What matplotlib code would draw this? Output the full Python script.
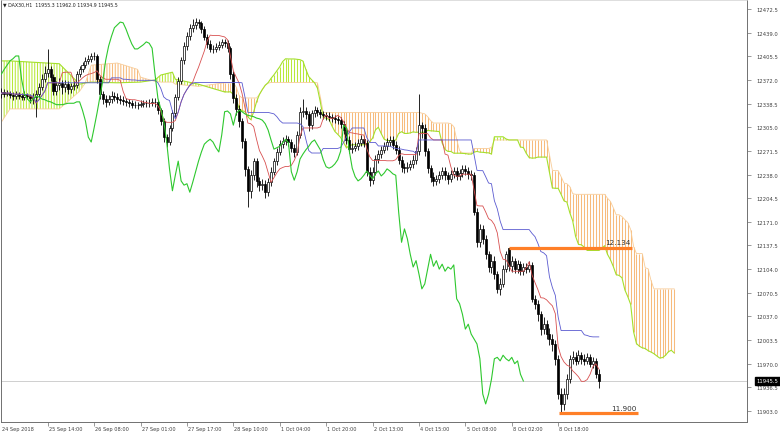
import matplotlib
matplotlib.use("Agg")
import matplotlib.pyplot as plt
import numpy as np
import pandas as pd

# DAX30 H1 candles (bar 0 = 24 Sep 2018)
opens = [12352, 12355, 12352, 12354, 12351, 12349, 12352, 12349, 12348, 12351,
         12349, 12346, 12348, 12352, 12362, 12373, 12382, 12387, 12376, 12356,
         12365, 12368, 12362, 12366, 12359, 12363, 12365, 12380, 12387, 12393,
         12399, 12402, 12406, 12406, 12373, 12352, 12345, 12341, 12345, 12349,
         12348, 12345, 12344, 12342, 12341, 12339, 12337, 12337, 12337, 12338,
         12339, 12339, 12339, 12341, 12341, 12329, 12314, 12291, 12284, 12304,
         12325, 12348, 12371, 12400, 12420, 12434, 12446, 12450, 12454, 12453,
         12444, 12433, 12423, 12416, 12416, 12419, 12422, 12426, 12424, 12417,
         12380, 12346, 12331, 12314, 12285, 12246, 12215, 12237, 12257, 12229,
         12223, 12225, 12213, 12227, 12242, 12257, 12270, 12281, 12285, 12288,
         12284, 12276, 12270, 12294, 12327, 12328, 12324, 12308, 12325, 12329,
         12327, 12324, 12322, 12321, 12320, 12318, 12317, 12315, 12310, 12301,
         12287, 12274, 12276, 12278, 12283, 12288, 12283, 12242, 12230, 12242,
         12260, 12267, 12273, 12278, 12284, 12287, 12280, 12273, 12259, 12249,
         12247, 12249, 12253, 12259, 12271, 12308, 12304, 12271, 12247, 12235,
         12229, 12232, 12237, 12243, 12237, 12232, 12239, 12243, 12236, 12240,
         12246, 12243, 12239, 12237, 12185, 12142, 12161, 12147, 12125, 12107,
         12116, 12097, 12076, 12083, 12104, 12134, 12108, 12116, 12104, 12111,
         12101, 12107, 12104, 12110, 12062, 12055, 12040, 12019, 12026, 12012,
         12005, 11998, 11977, 11927, 11913, 11927, 11948, 11977, 11979, 11974,
         11982, 11977, 11974, 11979, 11970, 11974, 11955.3]
highs = [12360, 12359, 12358, 12357, 12355, 12356, 12355, 12353, 12356, 12354,
         12352, 12353, 12358, 12368, 12380, 12392, 12416, 12392, 12380, 12370,
         12375, 12372, 12372, 12370, 12368, 12371, 12384, 12392, 12398, 12404,
         12408, 12410, 12412, 12409, 12378, 12357, 12350, 12350, 12356, 12355,
         12353, 12350, 12349, 12347, 12345, 12343, 12342, 12341, 12343, 12344,
         12344, 12345, 12346, 12347, 12344, 12332, 12318, 12296, 12308, 12330,
         12352, 12376, 12405, 12426, 12440, 12452, 12458, 12460, 12458, 12456,
         12448, 12437, 12428, 12422, 12424, 12427, 12430, 12430, 12428, 12420,
         12384, 12352, 12336, 12318, 12290, 12250, 12244, 12262, 12262, 12235,
         12232, 12230, 12233, 12248, 12262, 12276, 12287, 12291, 12294, 12293,
         12289, 12281, 12299, 12333, 12345, 12334, 12328, 12330, 12335, 12334,
         12331, 12328, 12327, 12326, 12324, 12323, 12321, 12320, 12314, 12305,
         12292, 12282, 12284, 12289, 12294, 12293, 12287, 12248, 12248, 12266,
         12273, 12279, 12284, 12290, 12293, 12292, 12285, 12278, 12264, 12255,
         12256, 12259, 12265, 12277, 12352, 12312, 12309, 12276, 12252, 12241,
         12238, 12243, 12249, 12248, 12242, 12245, 12249, 12248, 12246, 12252,
         12251, 12248, 12244, 12241, 12190, 12168, 12166, 12152, 12130, 12125,
         12122, 12102, 12092, 12110, 12130, 12134, 12122, 12120, 12117, 12116,
         12113, 12112, 12116, 12114, 12068, 12060, 12045, 12036, 12032, 12020,
         12012, 12003, 11982, 11935, 11935, 11955, 11983, 11988, 11986, 11990,
         11987, 11984, 11985, 11984, 11980, 11978, 11962.0]
lows = [12347, 12348, 12349, 12347, 12344, 12345, 12345, 12343, 12344, 12345,
        12340, 12338, 12320, 12348, 12358, 12369, 12376, 12370, 12350, 12350,
        12358, 12352, 12355, 12352, 12353, 12358, 12360, 12376, 12383, 12389,
        12394, 12397, 12400, 12368, 12345, 12338, 12334, 12336, 12340, 12342,
        12340, 12338, 12336, 12335, 12333, 12332, 12332, 12331, 12333, 12334,
        12334, 12334, 12335, 12334, 12324, 12308, 12284, 12277, 12280, 12300,
        12320, 12343, 12366, 12395, 12414, 12428, 12440, 12444, 12446, 12438,
        12428, 12418, 12411, 12410, 12412, 12415, 12417, 12419, 12412, 12374,
        12340, 12322, 12305, 12276, 12236, 12192, 12205, 12230, 12220, 12214,
        12216, 12205, 12208, 12222, 12237, 12252, 12265, 12276, 12280, 12278,
        12270, 12263, 12266, 12290, 12320, 12317, 12300, 12303, 12320, 12321,
        12318, 12316, 12315, 12314, 12312, 12311, 12309, 12304, 12295, 12281,
        12268, 12269, 12271, 12273, 12278, 12277, 12236, 12222, 12225, 12237,
        12255, 12262, 12268, 12273, 12279, 12274, 12267, 12253, 12242, 12240,
        12241, 12244, 12247, 12253, 12266, 12290, 12264, 12240, 12228, 12222,
        12223, 12226, 12231, 12230, 12225, 12227, 12233, 12230, 12230, 12235,
        12237, 12232, 12230, 12180, 12136, 12135, 12140, 12118, 12100, 12098,
        12090, 12070, 12068, 12078, 12100, 12102, 12100, 12098, 12099, 12095,
        12096, 12098, 12100, 12057, 12048, 12030, 12010, 12012, 12005, 11996,
        11988, 11968, 11920, 11900, 11905, 11920, 11942, 11970, 11968, 11970,
        11970, 11968, 11970, 11965, 11964, 11950, 11934.9]
closes = [12355, 12352, 12354, 12351, 12349, 12352, 12349, 12348, 12351, 12349,
          12346, 12348, 12352, 12362, 12373, 12382, 12387, 12376, 12356, 12365,
          12368, 12362, 12366, 12359, 12363, 12365, 12380, 12387, 12393, 12399,
          12402, 12406, 12406, 12373, 12352, 12345, 12341, 12345, 12349, 12348,
          12345, 12344, 12342, 12341, 12339, 12337, 12337, 12337, 12338, 12339,
          12339, 12339, 12341, 12341, 12329, 12314, 12291, 12284, 12304, 12325,
          12348, 12371, 12400, 12420, 12434, 12446, 12450, 12454, 12453, 12444,
          12433, 12423, 12416, 12416, 12419, 12422, 12426, 12424, 12417, 12380,
          12346, 12331, 12314, 12285, 12246, 12215, 12237, 12257, 12229, 12223,
          12225, 12213, 12227, 12242, 12257, 12270, 12281, 12285, 12288, 12284,
          12276, 12270, 12294, 12327, 12328, 12324, 12308, 12325, 12329, 12327,
          12324, 12322, 12321, 12320, 12318, 12317, 12315, 12310, 12301, 12287,
          12274, 12276, 12278, 12283, 12288, 12283, 12242, 12230, 12242, 12260,
          12267, 12273, 12278, 12284, 12287, 12280, 12273, 12259, 12249, 12247,
          12249, 12253, 12259, 12271, 12308, 12304, 12271, 12247, 12235, 12229,
          12232, 12237, 12243, 12237, 12232, 12239, 12243, 12236, 12240, 12246,
          12243, 12239, 12237, 12185, 12142, 12161, 12147, 12125, 12107, 12116,
          12097, 12076, 12083, 12104, 12125, 12108, 12116, 12104, 12111, 12101,
          12107, 12104, 12110, 12062, 12055, 12040, 12019, 12026, 12012, 12005,
          11998, 11977, 11927, 11913, 11927, 11948, 11977, 11979, 11974, 11982,
          11977, 11974, 11979, 11970, 11974, 11955, 11945.5]

# cloud on the first 77 bars comes from bars before the chart
early_bars = [0, 3, 20, 27, 29, 31, 40, 47, 48, 53, 55, 59, 60, 68, 77]
early_a = [12399, 12399, 12395, 12366, 12368, 12369, 12368, 12369, 12369, 12372,
           12379, 12383, 12373, 12366, 12355]
early_b = [12312, 12331, 12331, 12356, 12368, 12393, 12396, 12387, 12376, 12370,
           12369, 12369, 12366, 12363, 12368]

price_ticks = [12472.5, 12439.0, 12405.5, 12372.0, 12338.5, 12305.0, 12271.5,
               12238.0, 12204.5, 12171.0, 12137.5, 12104.0, 12070.5, 12037.0,
               12003.5, 11970.0, 11936.5, 11903.0]
time_bars = [0, 16, 32, 48, 64, 80, 96, 112, 128, 144, 160, 176, 192]
time_labels = ["24 Sep 2018", "25 Sep 14:00", "26 Sep 08:00", "27 Sep 01:00",
               "27 Sep 17:00", "28 Sep 10:00", "1 Oct 04:00", "1 Oct 20:00",
               "2 Oct 13:00", "4 Oct 15:00", "5 Oct 08:00", "8 Oct 02:00",
               "8 Oct 18:00"]

# horizontal levels: price, first bar, last bar, label
levels = [(12134, 175, 217.5, "12.134"), (11900, 192.3, 219.5, "11.900")]

GREEN_HATCH = '#b8e83a'
ORANGE_HATCH = '#f7bb7c'
plt.rcParams['hatch.linewidth'] = 0.75

df = pd.DataFrame({"o": opens, "h": highs, "l": lows, "c": closes})
bars = np.arange(len(df))

# Ichimoku (9, 26, 52)
tenkan = (df.h.rolling(9, min_periods=1).max() + df.l.rolling(9, min_periods=1).min()) / 2
kijun = (df.h.rolling(26, min_periods=1).max() + df.l.rolling(26, min_periods=1).min()) / 2
senkou_a = ((tenkan + kijun) / 2).values
senkou_b = ((df.h.rolling(52, min_periods=1).max() + df.l.rolling(52, min_periods=1).min()) / 2).values
disp = bars + 26
ok = disp >= 77

fig = plt.figure(figsize=(7.8, 4.35), dpi=100)
ax = fig.add_axes([1 / 780, 12 / 435, 746 / 780, 422 / 435])
ax.set_xlim(-0.1, 257.1)
ax.set_ylim(11887.4, 12485.3)

# cloud, early part (hatched between read-off spans)
eb = np.array(early_bars, dtype=float)
ea = np.array(early_a, dtype=float)
eB = np.array(early_b, dtype=float)
ax.fill_between(eb, ea, eB, where=ea >= eB, interpolate=True, facecolor='none',
                edgecolor=GREEN_HATCH, linewidth=0, hatch='||||||', zorder=1)
ax.fill_between(eb, ea, eB, where=ea < eB, interpolate=True, facecolor='none',
                edgecolor=ORANGE_HATCH, linewidth=0, hatch='||||||', zorder=1)

# cloud, computed part: one vertical line per bar like the terminal does
ca, cbv, cx = senkou_a[ok], senkou_b[ok], disp[ok]
ax.vlines(cx, ca, cbv, colors=np.where(ca >= cbv, GREEN_HATCH, ORANGE_HATCH),
          lw=0.75, zorder=1)

ax.plot(np.r_[eb, cx], np.r_[eB, cbv], color='#f8cc98', lw=0.6, zorder=2)
ax.plot(np.r_[eb, cx], np.r_[ea, ca], color='#a4e02c', lw=0.8, zorder=2)

# current price line
ax.axhline(closes[-1], color='#c8c8c8', lw=0.6, zorder=1)

# candles
up = (df.c >= df.o).values
ax.vlines(bars, df.l, df.h, color='black', lw=0.6, zorder=3)
ax.bar(bars[up], (df.c - df.o)[up], bottom=df.o[up], width=0.7,
       color='white', edgecolor='black', linewidth=0.5, zorder=4)
ax.bar(bars[~up], (df.c - df.o)[~up], bottom=df.o[~up], width=0.7,
       color='black', edgecolor='black', linewidth=0.5, zorder=4)

# tenkan, kijun, chikou
ax.plot(bars, tenkan, color='#d85050', lw=0.6, zorder=5)
ax.plot(bars, kijun, color='#5a5ad0', lw=0.6, zorder=5)
ax.plot(bars[26:] - 26, df.c[26:], color='#2ec82e', lw=0.8, zorder=5)

# levels
for price, b0, b1, label in levels:
    ax.plot([b0, b1], [price, price], color='#ff7f27', lw=2.3,
            solid_capstyle='butt', zorder=6)
    ax.text(b1 - 0.5, price + 3.5, label, fontsize=5.2, color='#303030',
            ha='right', va='bottom', zorder=7)

# axes styling
for side in ['left', 'right', 'bottom']:
    ax.spines[side].set_color('#707070')
    ax.spines[side].set_linewidth(0.7)
ax.spines['top'].set_color('#d0d0d0')
ax.spines['top'].set_linewidth(0.5)

ax.yaxis.tick_right()
ax.set_yticks(price_ticks)
ax.set_yticklabels([f"{p:.1f}" for p in price_ticks])
ax.tick_params(axis='y', length=3, width=0.5, pad=4, labelsize=3.8,
               colors='#707070', labelcolor='#404040')

ax.set_xticks(time_bars[1:])
ax.set_xticklabels([])
ax.tick_params(axis='x', length=3, width=0.5, colors='#707070')
xt = ax.get_xaxis_transform()
for b, lab in zip(time_bars, time_labels):
    ax.text(b + 0.4, -0.0145, lab, transform=xt, fontsize=3.6,
            color='#404040', ha='left', va='center')

# last price box
ax.text(1.0125, closes[-1], f"{closes[-1]:.1f}", transform=ax.get_yaxis_transform(),
        fontsize=3.8, color='white', ha='left', va='center',
        bbox=dict(boxstyle='square,pad=0.25', fc='black', ec='black'))

fig.text(3 / 780, 1 - 5 / 435,
         u"\u25bc DAX30,H1  11955.3 11962.0 11934.9 11945.5",
         fontsize=3.4, color='#202020', va='center', ha='left')

fig.savefig("out.png", dpi=100)
